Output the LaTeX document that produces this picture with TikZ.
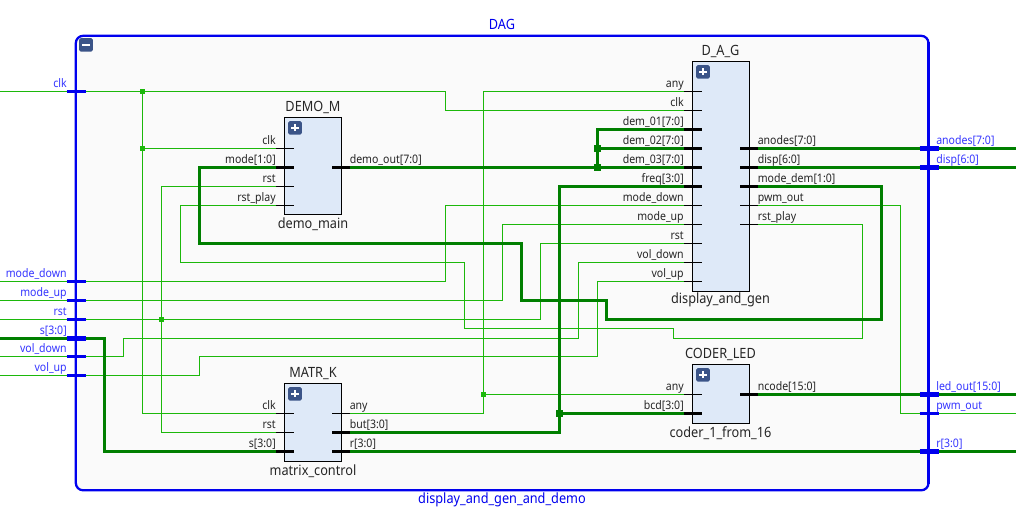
\documentclass[tikz,border=0pt]{standalone}
\usepackage{fontspec}
\setmainfont[FakeStretch=0.9]{Noto Sans}
\definecolor{wthin}{HTML}{1CB80B}
\definecolor{wthick}{HTML}{007F00}
\definecolor{bord}{HTML}{0000EE}
\definecolor{portbl}{HTML}{3636FF}
\definecolor{blk}{HTML}{DEE9F8}
\definecolor{ic}{HTML}{3B5488}
\definecolor{lab}{HTML}{262626}
\tikzset{
  x=0.75pt,y=-0.75pt,
  thinw/.style={draw=wthin,line width=0.75pt},
  thickw/.style={draw=wthick,line width=2.4pt},
  thinstub/.style={draw=black,line width=0.75pt},
  thickstub/.style={draw=black,line width=2.4pt},
  thinport/.style={draw=bord,line width=1.7pt},
  thickport/.style={draw=bord,line width=3.4pt},
  pinlabel/.style={font=\fontsize{8.8}{10}\selectfont,text=lab,inner sep=0pt},
  portlabel/.style={font=\fontsize{8.8}{10}\selectfont,text=portbl,inner sep=0pt},
  title/.style={font=\fontsize{10.6}{12}\selectfont,text=lab,inner sep=0pt,anchor=base},
  btitle/.style={font=\fontsize{10.6}{12}\selectfont,text=bord,inner sep=0pt,anchor=base},
  block/.style={draw=black,fill=blk,line width=0.75pt,inner sep=0pt,outer sep=0pt,rectangle},
  icon/.style={fill=ic,rounded corners=1.2pt,draw=none,minimum size=10.2pt,inner sep=0pt,rectangle},
  jthin/.style={fill=wthin,draw=none,minimum size=3.75pt,inner sep=0pt,rectangle},
  jthick/.style={fill=wthick,draw=none,minimum size=5.25pt,inner sep=0pt,rectangle},
}
\newcommand\inpin[5]{%
  \coordinate (#1) at (#2-8.5,#3);
  \draw[#5stub] (#1) -- ++(18,0);
  \node[pinlabel,anchor=base east] (#1-t) at (#2-8.5,#3-4.5) {#4};
}
\newcommand\outpin[5]{%
  \coordinate (#1) at (#2+8,#3);
  \draw[#5stub] (#1) -- ++(-18,0);
  \node[pinlabel,anchor=base west] (#1-t) at (#2+8,#3-4.5) {#4};
}
\newcommand\blockbox[5]{% id, x0, y0, x1, y1
  \node[block,minimum width=#4*0.75pt-#2*0.75pt,minimum height=#5*0.75pt-#3*0.75pt,anchor=north west] (#1) at (#2,#3) {};
  \node[icon] (#1-i) at (#2+10.5,#3+10.3) {};
  \draw[white,line width=1.3pt] (#1-i.center) ++(-3.6,0) -- ++(7.2,0);
  \draw[white,line width=1.3pt] (#1-i.center) ++(0,-3.6) -- ++(0,7.2);
}
\begin{document}
\begin{tikzpicture}
\useasboundingbox (0,0) rectangle (1016,519);
\fill[white] (0,0) rectangle (1016,519);
\draw[bord,fill=black!2,line width=1.7pt,rounded corners=5.5pt] (75.8,35.8) rectangle (928.5,490.3);

% port end coordinates
\coordinate (w-clk) at (0,91.5);
\coordinate (w-mdown) at (0,281.5);
\coordinate (w-mup) at (0,300.5);
\coordinate (w-rst) at (0,319.5);
\coordinate (w-s) at (0,338.5);
\coordinate (w-vdown) at (0,356.5);
\coordinate (w-vup) at (0,375.5);
\coordinate (e-an) at (1016,148.5);
\coordinate (e-disp) at (1016,167.5);
\coordinate (e-led) at (1016,394.5);
\coordinate (e-pwm) at (1016,413.5);
\coordinate (e-r) at (1016,451.5);

% blocks
\blockbox{demo}{284.5}{117.5}{341.5}{214.5}
\blockbox{dag}{692.5}{61.5}{749.5}{291.5}
\blockbox{matr}{284.5}{383.5}{341.5}{461.5}
\blockbox{coder}{692.5}{364.5}{749.5}{423.5}

% minus icon
\node[icon] (root-i) at (86,44.8) {};
\draw[white,line width=1.3pt] (root-i.center) ++(-3.6,0) -- ++(7.2,0);

% pins
\inpin{d-clk}{284.5}{148.5}{clk}{thin}
\inpin{d-mode}{284.5}{167.5}{mode[1:0]}{thick}
\inpin{d-rst}{284.5}{186.5}{rst}{thin}
\inpin{d-play}{284.5}{205.5}{rst\_play}{thin}
\outpin{d-out}{341.5}{167.5}{demo\_out[7:0]}{thick}

\inpin{g-any}{692.5}{91.5}{any}{thin}
\inpin{g-clk}{692.5}{110.5}{clk}{thin}
\inpin{g-d1}{692.5}{129.5}{dem\_01[7:0]}{thick}
\inpin{g-d2}{692.5}{148.5}{dem\_02[7:0]}{thick}
\inpin{g-d3}{692.5}{167.5}{dem\_03[7:0]}{thick}
\inpin{g-freq}{692.5}{186.5}{freq[3:0]}{thick}
\inpin{g-mdown}{692.5}{205.5}{mode\_down}{thin}
\inpin{g-mup}{692.5}{224.5}{mode\_up}{thin}
\inpin{g-rst}{692.5}{243.5}{rst}{thin}
\inpin{g-vdown}{692.5}{262.5}{vol\_down}{thin}
\inpin{g-vup}{692.5}{281.5}{vol\_up}{thin}
\outpin{g-an}{749.5}{148.5}{anodes[7:0]}{thick}
\outpin{g-disp}{749.5}{167.5}{disp[6:0]}{thick}
\outpin{g-mdem}{749.5}{186.5}{mode\_dem[1:0]}{thick}
\outpin{g-pwm}{749.5}{205.5}{pwm\_out}{thin}
\outpin{g-play}{749.5}{224.5}{rst\_play}{thin}

\inpin{m-clk}{284.5}{413.5}{clk}{thin}
\inpin{m-rst}{284.5}{432.5}{rst}{thin}
\inpin{m-s}{284.5}{451.5}{s[3:0]}{thick}
\outpin{m-any}{341.5}{413.5}{any}{thin}
\outpin{m-but}{341.5}{432.5}{but[3:0]}{thick}
\outpin{m-r}{341.5}{451.5}{r[3:0]}{thick}

\inpin{c-any}{692.5}{394.5}{any}{thin}
\inpin{c-bcd}{692.5}{413.5}{bcd[3:0]}{thick}
\outpin{c-out}{749.5}{394.5}{ncode[15:0]}{thick}

% titles
\node[title] (t1) at (313,111) {DEMO\_M};
\node[title] (t2) at (313,228.5) {demo\_main};
\node[title] (t3) at (720.5,55) {D\_A\_G};
\node[title] (t4) at (720.5,303.5) {display\_and\_gen};
\node[title] (t5) at (313,377) {MATR\_K};
\node[title] (t6) at (313,475.5) {matrix\_control};
\node[title] (t7) at (720.5,358) {CODER\_LED};
\node[title] (t8) at (720.5,437.5) {coder\_1\_from\_16};
\node[btitle] (t9) at (502,29) {DAG};
\node[btitle] (t10) at (502,503) {display\_and\_gen\_and\_demo};

% thin wires
\draw[thinw] (w-clk) -- (445.5,91.5) |- (g-clk);
\draw[thinw] (142.5,91.5) |- (m-clk);
\draw[thinw] (142.5,148.5) -- (d-clk);
\draw[thinw] (w-mdown) -- (445.5,281.5) |- (g-mdown);
\draw[thinw] (w-mup) -- (502.5,300.5) |- (g-mup);
\draw[thinw] (w-rst) -- (540.5,319.5) |- (g-rst);
\draw[thinw] (d-rst) -- (161.5,186.5) |- (m-rst);
\draw[thinw] (w-vdown) -- (123.5,356.5) |- (578.5,338.5) |- (g-vdown);
\draw[thinw] (w-vup) -- (199.5,375.5) |- (597.5,356.5) |- (g-vup);
\draw[thinw] (d-play) -- (180.5,205.5) |- (464.5,262.5) |- (673.5,328.5) |- (862.5,338.5) |- (g-play);
\draw[thinw] (g-pwm) -- (900.5,205.5) |- (e-pwm);
\draw[thinw] (m-any) -- (483.5,413.5) |- (g-any);
\draw[thinw] (483.5,394.5) -- (c-any);

% thick wires
\draw[thickw] (d-mode) -- (199.5,167.5) |- (521.5,243.5) |- (606.5,300.5) |- (881.5,319.5) |- (g-mdem);
\draw[thickw] (w-s) -- (104.5,338.5) |- (m-s);
\draw[thickw] (d-out) -- (g-d3);
\draw[thickw] (597.5,167.5) |- (g-d1);
\draw[thickw] (597.5,148.5) -- (g-d2);
\draw[thickw] (m-but) -- (559.5,432.5) |- (g-freq);
\draw[thickw] (559.5,413.5) -- (c-bcd);
\draw[thickw] (g-an) -- (e-an);
\draw[thickw] (g-disp) -- (e-disp);
\draw[thickw] (c-out) -- (e-led);
\draw[thickw] (m-r) -- (e-r);

% junctions
\node[jthin] (j1) at (142.5,91.5) {};
\node[jthin] (j2) at (142.5,148.5) {};
\node[jthin] (j3) at (161.5,319.5) {};
\node[jthin] (j4) at (483.5,394.5) {};
\node[jthick] (j5) at (597.5,148.5) {};
\node[jthick] (j6) at (597.5,167.5) {};
\node[jthick] (j7) at (559.5,413.5) {};

% re-draw frame sides over wires
\draw[bord,line width=1.7pt] (75.8,42) -- (75.8,484);
\draw[bord,line width=1.7pt] (928.5,42) -- (928.5,484);

% ports
\foreach \n/\y/\s/\t in {a/91.5/thin/clk,b/281.5/thin/mode\_down,c/300.5/thin/mode\_up,d/319.5/thin/rst,e/338.5/thick/s[3:0],f/356.5/thin/vol\_down,g/375.5/thin/vol\_up}{
  \draw[\s port] (66.5,\y) -- (85.5,\y);
  \node[portlabel,anchor=base east] (pl-\n) at (67,\y-4.5) {\t};
}
\foreach \n/\y/\s/\t in {a/148.5/thick/anodes[7:0],b/167.5/thick/disp[6:0],c/394.5/thick/led\_out[15:0],d/413.5/thin/pwm\_out,e/451.5/thick/r[3:0]}{
  \draw[\s port] (919.5,\y) -- (938.5,\y);
  \node[portlabel,anchor=base west] (pr-\n) at (936,\y-4.5) {\t};
}
\end{tikzpicture}
\end{document}
